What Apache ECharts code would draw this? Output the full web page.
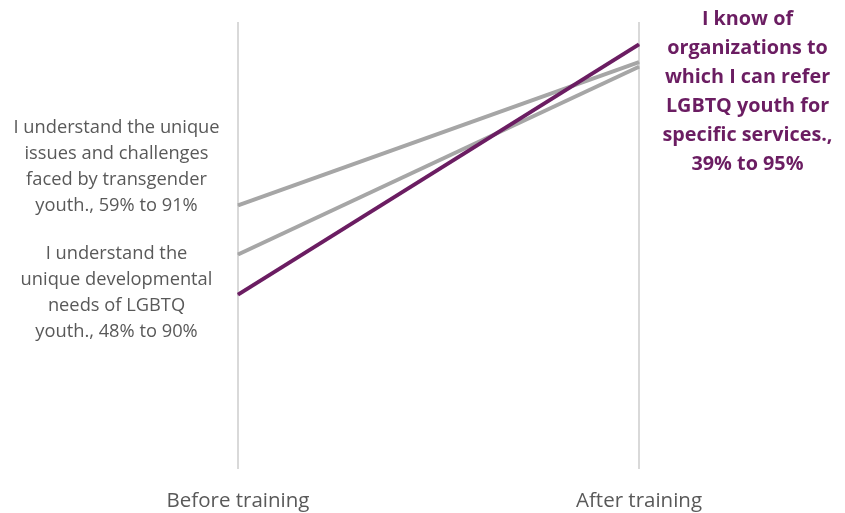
<!DOCTYPE html>
<html>
<head>
<meta charset="utf-8">
<script src="https://cdn.jsdelivr.net/npm/echarts@6/dist/echarts.min.js"></script>
<style>
html,body{margin:0;padding:0;background:#fff;}
#chart{width:845px;height:513px;}
</style>
</head>
<body>
<div id="chart"></div>
<script>
const categories = ['Before training', 'After training'];
const seriesNames = [
  'I understand the unique issues and challenges faced by transgender youth.',
  'I understand the unique developmental needs of LGBTQ youth.',
  'I know of organizations to which I can refer LGBTQ youth for specific services.'
];
const transgenderIssues = [59, 91];
const developmentalNeeds = [48, 90];
const referOrganizations = [39, 95];

const labelTransgender = 'I understand the unique\nissues and challenges\nfaced by transgender\nyouth., 59% to 91%';
const labelDevelopmental = 'I understand the\nunique developmental\nneeds of LGBTQ\nyouth., 48% to 90%';
const labelRefer = 'I know of\norganizations to\nwhich I can refer\nLGBTQ youth for\nspecific services.,\n39% to 95%';

const GRAY = '#a6a6a6';
const PURPLE = '#6b1d62';
const TEXT = '#595959';
const FONT = '"Open Sans", sans-serif';

function withLabel(values, idx, cfg) {
  return values.map((v, i) => i === idx ? { value: v, label: Object.assign({ show: true }, cfg) } : v);
}

const chart = echarts.init(document.getElementById('chart'));
chart.setOption({
  animation: false,
  grid: { left: 238, right: 206, top: 22, bottom: 44 },
  xAxis: {
    type: 'category',
    data: categories,
    boundaryGap: false,
    axisLine: { show: false },
    axisTick: { show: false },
    axisLabel: { color: TEXT, fontSize: 20.5, fontFamily: FONT, margin: 22 },
    splitLine: { show: true, lineStyle: { color: '#d9d9d9', width: 2 } }
  },
  yAxis: {
    type: 'value', min: 0, max: 100, show: false,
    splitLine: { show: false }
  },
  series: [
    {
      name: seriesNames[0], type: 'line', z: 2,
      symbol: 'circle', symbolSize: 1, showSymbol: true,
      itemStyle: { color: GRAY }, lineStyle: { color: GRAY, width: 4 },
      label: { show: false },
      data: withLabel(transgenderIssues, 0, {
        formatter: labelTransgender, position: 'left', distance: 121, align: 'center',
        offset: [0, -38], color: TEXT, fontSize: 18.3, lineHeight: 26, fontFamily: FONT
      })
    },
    {
      name: seriesNames[1], type: 'line', z: 2,
      symbol: 'circle', symbolSize: 1, showSymbol: true,
      itemStyle: { color: GRAY }, lineStyle: { color: GRAY, width: 4 },
      label: { show: false },
      data: withLabel(developmentalNeeds, 0, {
        formatter: labelDevelopmental, position: 'left', distance: 121, align: 'center',
        offset: [0, 38], color: TEXT, fontSize: 18.3, lineHeight: 26, fontFamily: FONT
      })
    },
    {
      name: seriesNames[2], type: 'line', z: 3,
      symbol: 'circle', symbolSize: 1, showSymbol: true,
      itemStyle: { color: PURPLE }, lineStyle: { color: PURPLE, width: 4 },
      label: { show: false },
      data: withLabel(referOrganizations, 1, {
        formatter: labelRefer, position: 'right', distance: 108, align: 'center',
        offset: [0, 48], color: PURPLE, fontSize: 19.8, fontWeight: 'bold', lineHeight: 29, fontFamily: FONT
      })
    }
  ]
});
</script>
</body>
</html>
